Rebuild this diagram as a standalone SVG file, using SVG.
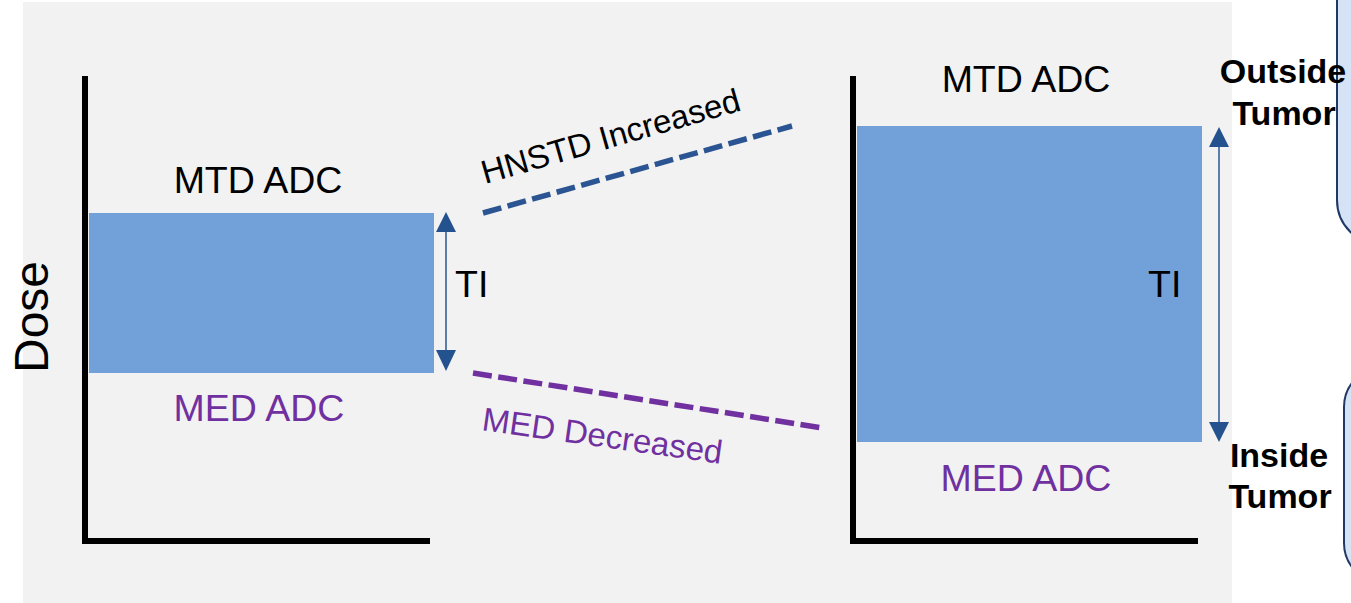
<svg xmlns="http://www.w3.org/2000/svg" width="1351" height="603" viewBox="0 0 1351 603">
<defs>
<style>
text{font-family:"Liberation Sans",Arial,sans-serif;}
.lbl{font-size:37.5px;fill:#000;}
.med{font-size:37.5px;fill:#7030a0;}
.side{font-size:34px;font-weight:bold;fill:#000;text-anchor:middle;}
.axis{stroke:#000;stroke-width:6;fill:none;}
.bar{fill:#72a0d9;}
.ti{stroke:#2a5490;stroke-width:1.5;fill:none;}
.head{fill:#24528e;}
.box{fill:#d6e2f5;stroke:#1f3864;stroke-width:2;}
</style>
</defs>
<rect x="0" y="0" width="1351" height="603" fill="#ffffff"/>
<rect x="23" y="2" width="1209" height="601" fill="#f2f2f2"/>

<g id="side-box-top"><rect class="box" x="1337" y="-60" width="120" height="305" rx="45"/></g>
<g id="side-box-bottom"><rect class="box" x="1344" y="367" width="120" height="216" rx="40"/></g>

<g id="left-chart">
<line class="axis" x1="85" y1="76" x2="85" y2="544"/>
<line class="axis" x1="82" y1="541" x2="430" y2="541"/>
<rect class="bar" x="89" y="213" width="345" height="160"/>
<text class="lbl" x="258" y="193" text-anchor="middle">MTD ADC</text>
<text class="med" x="259" y="421" text-anchor="middle">MED ADC</text>
<text class="lbl" x="455" y="297">TI</text>
</g>

<g id="dose-label"><text x="48" y="317" font-size="48" text-anchor="middle" transform="rotate(-90 48 317)">Dose</text></g>

<g id="right-chart">
<line class="axis" x1="853" y1="76" x2="853" y2="544"/>
<line class="axis" x1="850" y1="541" x2="1198" y2="541"/>
<rect class="bar" x="857" y="126" width="345" height="316"/>
<text class="lbl" x="1026" y="92" text-anchor="middle">MTD ADC</text>
<text class="med" x="1026" y="491" text-anchor="middle">MED ADC</text>
<text class="lbl" x="1148" y="297">TI</text>
</g>

<g id="outside-label"><text class="side" x="1283" y="83">Outside</text><text class="side" x="1284" y="125">Tumor</text></g>
<g id="inside-label"><text class="side" x="1279" y="467">Inside</text><text class="side" x="1280" y="508">Tumor</text></g>

<g id="connectors">
<line class="ti" x1="446" y1="230" x2="446" y2="352"/>
<polygon class="head" points="446,212 436,232 456,232"/>
<polygon class="head" points="446,371 436,350 456,350"/>
<line class="ti" x1="1219" y1="145" x2="1219" y2="424"/>
<polygon class="head" points="1219,127 1209,147 1229,147"/>
<polygon class="head" points="1219,442 1209,422 1229,422"/>
<line x1="483" y1="213" x2="792" y2="126" stroke="#2b5592" stroke-width="5.5" stroke-dasharray="19 6.5"/>
<line x1="473" y1="373" x2="823" y2="428" stroke="#7030a0" stroke-width="5.5" stroke-dasharray="19 6.5"/>
<text x="485" y="184" font-size="33" fill="#000" transform="rotate(-16 485 184)">HNSTD Increased</text>
<text x="481" y="430" font-size="33" fill="#7030a0" transform="rotate(8 481 430)">MED Decreased</text>
</g>
</svg>
